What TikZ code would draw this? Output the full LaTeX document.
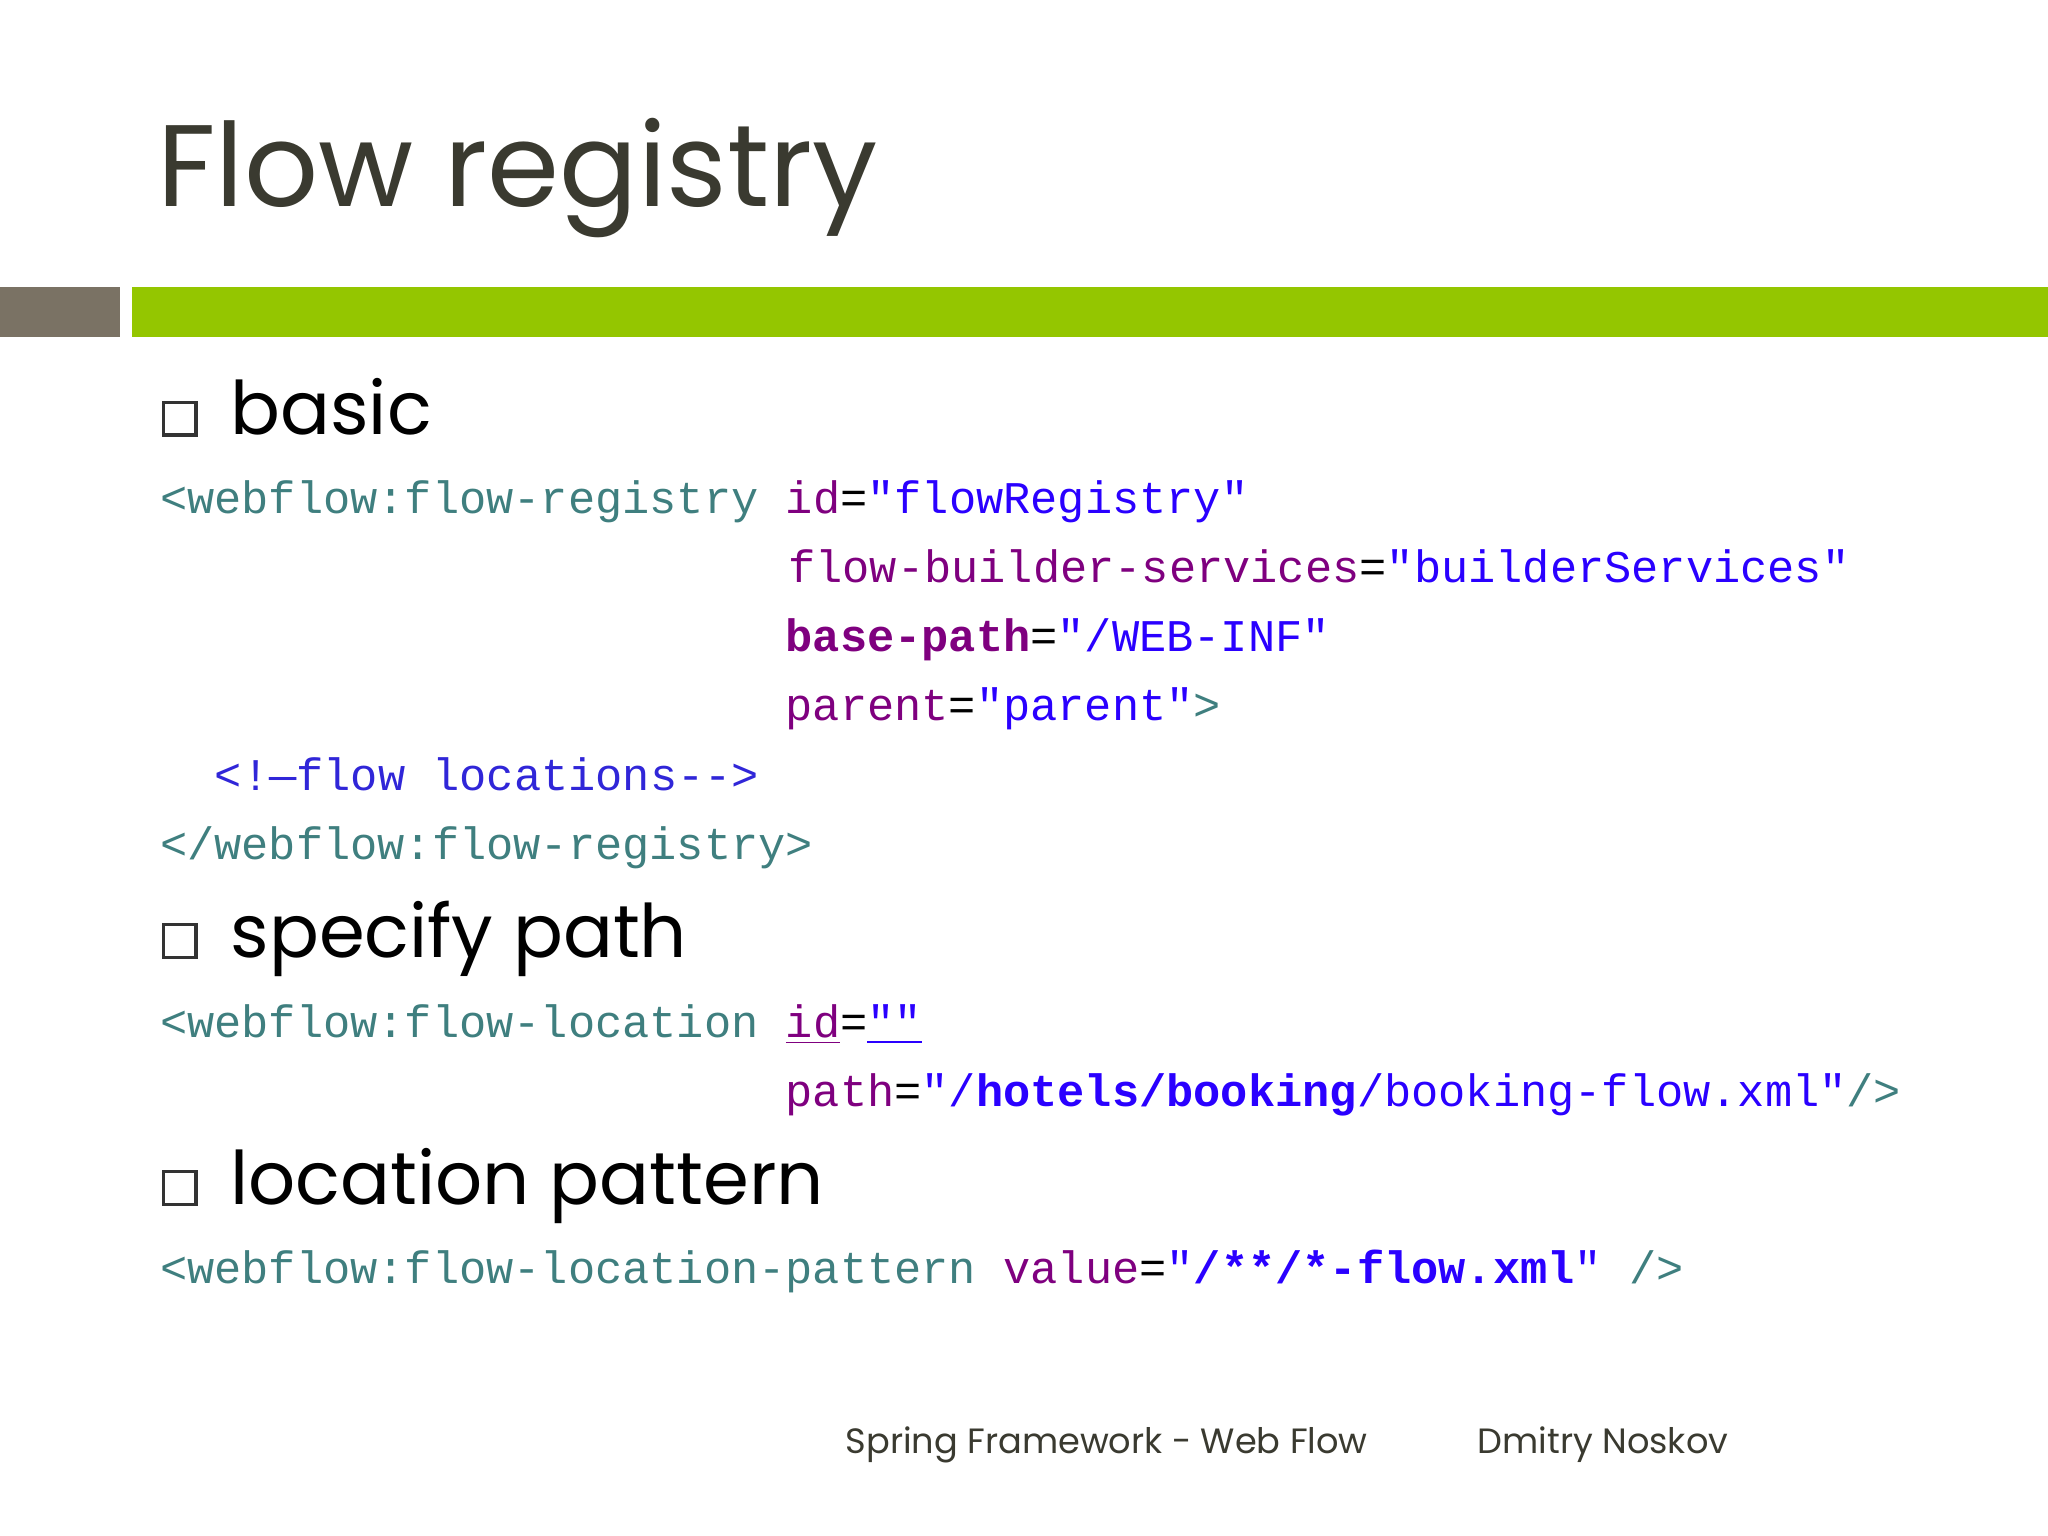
\documentclass[tikz,border=0pt]{standalone}
\usepackage{fontspec}
\setmainfont{Poppins}
\newfontfamily\codefont{Liberation Mono}
\usetikzlibrary{positioning}
\definecolor{tagcol}{HTML}{3F7F7F}
\definecolor{attrcol}{HTML}{7F007F}
\definecolor{valcol}{HTML}{2A00FF}
\definecolor{barcol}{HTML}{94C600}
\definecolor{greycol}{HTML}{7A7264}
\definecolor{titlecol}{HTML}{3A3A30}
\newcommand{\tg}[1]{\textcolor{tagcol}{#1}}
\newcommand{\at}[1]{\textcolor{attrcol}{#1}}
\newcommand{\vl}[1]{\textcolor{valcol}{#1}}
\tikzstyle{code} = [anchor=base west, inner sep=0pt, font=\codefont\fontsize{12.9}{14}\selectfont]
\tikzstyle{bullet} = [anchor=base west, inner sep=0pt, font=\fontsize{21}{24}\selectfont]
\tikzstyle{box} = [draw=black!80, line width=0.9pt]

\begin{document}
\begin{tikzpicture}[x=0.01306cm, y=-0.01306cm]
  \useasboundingbox[fill=white] (0,0) rectangle (1568,1176);

  \node (title) [anchor=base west, inner sep=0pt, text=titlecol, font=\fontsize{33}{36}\selectfont] at (120,158) {Flow registry};
  \fill[greycol] (0,220) rectangle (92,258);
  \fill[barcol] (101,220) rectangle (1568,258);

  % basic
  \draw[box] (125,308) rectangle (150,333);
  \node (basic) [bullet] at (176,333) {basic};
  \node (reg) [code] at (122,393) {\tg{<webflow:flow-registry} \at{id}=\vl{"flowRegistry"}};
  \node (builder) [code] at (603,446) {\at{flow-builder-services}=\vl{"builderServices"}};
  \node (base) [code] at (601,499) {\textbf{\at{base-path}}=\vl{"/WEB-INF"}};
  \node (parent) [code] at (601,552) {\at{parent}=\vl{"parent"}\tg{>}};
  \node (comment) [code, text=valcol!70!tagcol] at (164,605) {<!—flow locations-->};
  \node (regend) [code] at (122,658) {\tg{</webflow:flow-registry>}};

  % specify path
  \draw[box] (125,708) rectangle (150,733);
  \node (spec) [bullet] at (176,733) {specify path};
  \node (loc) [code] at (122,794) {\tg{<webflow:flow-location} \at{\underline{id}}=\vl{\underline{""}}};
  \node (path) [code] at (601,847) {\at{path}=\vl{"/\textbf{hotels/booking}/booking-flow.xml"}\tg{/>}};

  % location pattern
  \draw[box] (125,897) rectangle (150,922);
  \node (pat) [bullet] at (176,922) {location pattern};
  \node (patcode) [code] at (122,983) {\tg{<webflow:flow-location-pattern} \at{value}=\vl{"\textbf{/**/*-flow.xml}"} \tg{/>}};

  \node (foot) [anchor=base west, inner sep=0pt, text=titlecol, font=\fontsize{10}{12}\selectfont] at (647,1113) {Spring Framework - Web Flow\hspace{1.1cm}Dmitry Noskov};
\end{tikzpicture}
\end{document}
